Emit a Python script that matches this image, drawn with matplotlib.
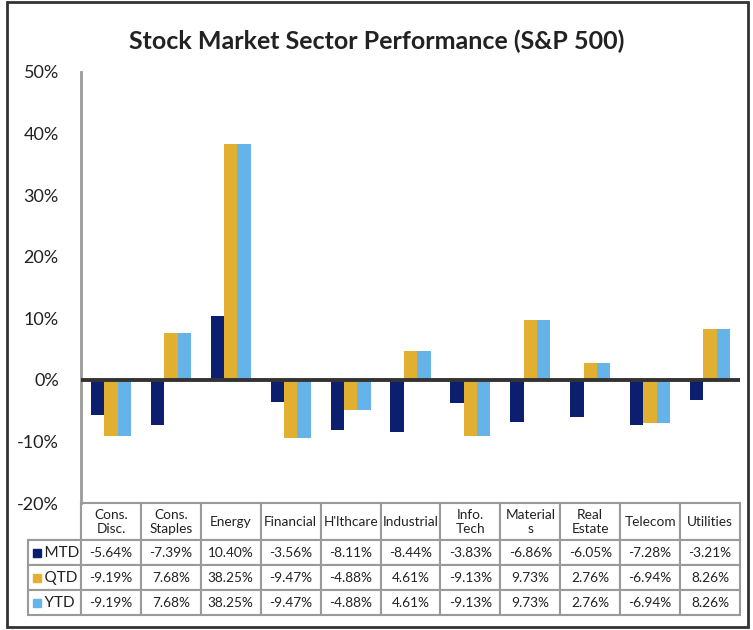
import matplotlib
matplotlib.use("Agg")
import matplotlib.pyplot as plt
from matplotlib.patches import Rectangle
import numpy as np

plt.rcParams['font.family'] = ['Lato', 'DejaVu Sans']

sectors = ["Cons.\nDisc.", "Cons.\nStaples", "Energy", "Financial", "H'lthcare",
           "Industrial", "Info.\nTech", "Material\ns", "Real\nEstate", "Telecom", "Utilities"]
series_names = ["MTD", "QTD", "YTD"]
mtd = [-5.64, -7.39, 10.40, -3.56, -8.11, -8.44, -3.83, -6.86, -6.05, -7.28, -3.21]
qtd = [-9.19, 7.68, 38.25, -9.47, -4.88, 4.61, -9.13, 9.73, 2.76, -6.94, 8.26]
ytd = [-9.19, 7.68, 38.25, -9.47, -4.88, 4.61, -9.13, 9.73, 2.76, -6.94, 8.26]
colors = ["#0B1F6E", "#E2B030", "#66B3EA"]
yticks = [-20, -10, 0, 10, 20, 30, 40, 50]

W, H = 753, 630
fig = plt.figure(figsize=(W / 100, H / 100), dpi=100)

def fx(x):
    return x / W

def fy(y):
    return 1 - y / H

ax = fig.add_axes([fx(81), fy(503), fx(740) - fx(81), fy(72) - fy(503)])

x = np.arange(len(sectors))
bw = 0.223
for k, (vals, c) in enumerate(zip([mtd, qtd, ytd], colors)):
    ax.bar(x + (k - 1) * bw, np.array(vals) / 100, width=bw, color=c, zorder=2)

ax.set_xlim(-0.5, len(sectors) - 0.5)
ax.set_ylim(-0.20, 0.50)
ax.set_yticks([t / 100 for t in yticks])
ax.set_yticklabels([f"{t}%" for t in yticks], fontsize=13, color="#222222")
ax.tick_params(axis='y', length=0, pad=16)
ax.set_xticks([])
for s in ['top', 'right', 'bottom']:
    ax.spines[s].set_visible(False)
ax.spines['left'].set_color("#9a9a9a")
ax.spines['left'].set_linewidth(2)
ax.axhline(0, color="#333333", linewidth=2.8, zorder=3)

# data table
rows = []
for name, vals in zip(series_names, [mtd, qtd, ytd]):
    rows.append(["    " + name] + [f"{v:.2f}%" for v in vals])
header = [""] + sectors
cell_text = [header] + rows

lab_w = 53 / 659
dat_w = 1 / 11
tbl = ax.table(cellText=cell_text, colWidths=[lab_w] + [dat_w] * 11,
               cellLoc='center', bbox=[-lab_w, -0.26, 1 + lab_w, 0.26])
tbl.auto_set_font_size(False)
for (r, c), cell in tbl.get_celld().items():
    cell.set_edgecolor("#9a9a9a")
    cell.set_linewidth(1.5)
    cell.get_text().set_fontsize(9.8)
    cell.get_text().set_color("#222222")
    cell.set_height(37 if r == 0 else 25)
    if c == 0 and r > 0:
        cell.get_text().set_horizontalalignment('left')
        cell._loc = 'left'
        cell.PAD = 0.02
        cell.get_text().set_fontsize(11)

tbl[(0, 0)].visible_edges = 'BR'

# legend squares in the row label cells
for k, c in enumerate(colors):
    yc = 552.5 + 25 * k
    fig.patches.append(Rectangle((fx(33), fy(yc + 4)), fx(8), 8 / H,
                                 transform=fig.transFigure, color=c))

fig.text(0.5, fy(41), "Stock Market Sector Performance (S&P 500)",
         ha='center', va='center', fontsize=18, fontweight='bold', color="#222222")

fig.patches.append(Rectangle((fx(7), fy(627)), fx(741), 625 / H,
                             transform=fig.transFigure, fill=False,
                             edgecolor="#333333", linewidth=2))

fig.savefig("out.png", dpi=100)
